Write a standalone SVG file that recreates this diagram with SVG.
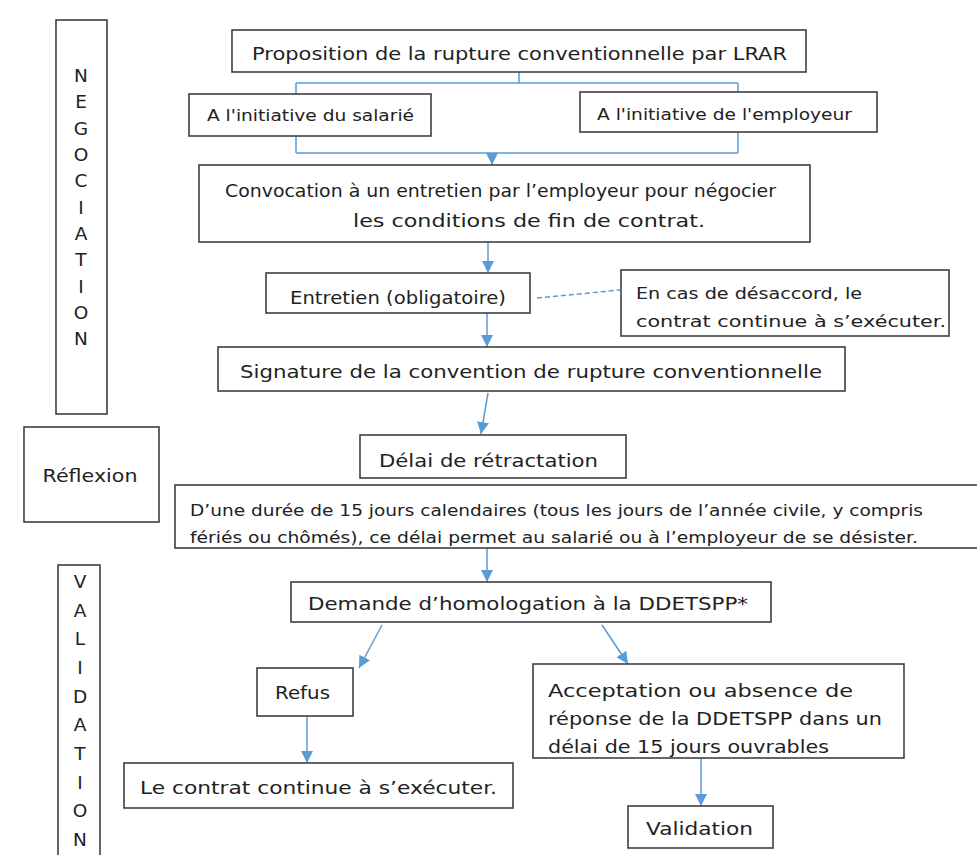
<svg xmlns="http://www.w3.org/2000/svg" width="977" height="855" viewBox="0 0 977 855">
<style>
.box{fill:#fff;stroke:#404040;stroke-width:1.6}
.t{font-family:"DejaVu Sans","Liberation Sans",sans-serif;font-size:18.5px;fill:#222}
.s{font-family:"DejaVu Sans","Liberation Sans",sans-serif;font-size:15.5px;fill:#222}
.c{text-anchor:middle}
.ln{fill:none;stroke:#5B9BD5;stroke-width:1.5}
</style>
<defs>
<marker id="ah" markerUnits="userSpaceOnUse" markerWidth="12" markerHeight="12" refX="12" refY="6" orient="auto" viewBox="0 0 12 12">
<path d="M0,0 L12,6 L0,12 z" fill="#5B9BD5"/>
</marker>
</defs>
<rect width="977" height="855" fill="#fff"/>

<g id="connectors">
<path class="ln" d="M519,72 V83 M296,83 H738 M296,83 V94 M738,83 V92"/>
<path class="ln" d="M296,136 V153 M738,132 V153 M296,153 H738"/>
<path class="ln" d="M492,153 V165" marker-end="url(#ah)"/>
<path class="ln" d="M488,242 V273" marker-end="url(#ah)"/>
<path class="ln" d="M537,298 L620,290" stroke-dasharray="5,3"/>
<path class="ln" d="M487,313 V347" marker-end="url(#ah)"/>
<path class="ln" d="M488,393 L481,434" marker-end="url(#ah)"/>
<path class="ln" d="M487,548 V582" marker-end="url(#ah)"/>
<path class="ln" d="M382,625 L359,668" marker-end="url(#ah)"/>
<path class="ln" d="M602,625 L628,664" marker-end="url(#ah)"/>
<path class="ln" d="M307,716 V763" marker-end="url(#ah)"/>
<path class="ln" d="M701,758 V806" marker-end="url(#ah)"/>
</g>

<g id="negociation">
<rect class="box" x="56" y="20" width="51" height="394"/>
<text class="t c" font-size="17">
<tspan x="81" y="82">N</tspan><tspan x="81" y="108">E</tspan><tspan x="81" y="135">G</tspan><tspan x="81" y="161">O</tspan><tspan x="81" y="187">C</tspan><tspan x="81" y="214">I</tspan><tspan x="81" y="240">A</tspan><tspan x="81" y="266">T</tspan><tspan x="81" y="293">I</tspan><tspan x="81" y="319">O</tspan><tspan x="81" y="345">N</tspan>
</text>
</g>

<g id="reflexion">
<rect class="box" x="24" y="427" width="135" height="95"/>
<text class="t c" x="90" y="482" textLength="95" lengthAdjust="spacingAndGlyphs">Réflexion</text>
</g>

<g id="validation-col">
<rect class="box" x="58" y="565" width="42" height="300"/>
<text class="t c" font-size="17">
<tspan x="80" y="588">V</tspan><tspan x="80" y="617">A</tspan><tspan x="80" y="645">L</tspan><tspan x="80" y="674">I</tspan><tspan x="80" y="703">D</tspan><tspan x="80" y="731">A</tspan><tspan x="80" y="760">T</tspan><tspan x="80" y="789">I</tspan><tspan x="80" y="817">O</tspan><tspan x="80" y="846">N</tspan>
</text>
</g>

<g id="proposition">
<rect class="box" x="232" y="30" width="574" height="42"/>
<text class="t" x="252" y="60" textLength="535" lengthAdjust="spacingAndGlyphs">Proposition de la rupture conventionnelle par LRAR</text>
</g>

<g id="salarie">
<rect class="box" x="189" y="94" width="242" height="42"/>
<text class="s" x="207" y="121" textLength="207" lengthAdjust="spacingAndGlyphs">A l'initiative du salarié</text>
</g>

<g id="employeur">
<rect class="box" x="580" y="92" width="297" height="40"/>
<text class="s" x="597" y="120" textLength="255" lengthAdjust="spacingAndGlyphs">A l'initiative de l'employeur</text>
</g>

<g id="convocation">
<rect class="box" x="199" y="165" width="611" height="77"/>
<text class="t" x="225" y="197" textLength="551" lengthAdjust="spacingAndGlyphs">Convocation à un entretien par l’employeur pour négocier</text>
<text class="t" x="353" y="227" textLength="352" lengthAdjust="spacingAndGlyphs">les conditions de fin de contrat.</text>
</g>

<g id="entretien">
<rect class="box" x="266" y="273" width="264" height="40"/>
<text class="t" x="290" y="304" textLength="216" lengthAdjust="spacingAndGlyphs">Entretien (obligatoire)</text>
</g>

<g id="desaccord">
<rect class="box" x="621" y="270" width="328" height="66"/>
<text class="s" x="636" y="299" textLength="226" lengthAdjust="spacingAndGlyphs">En cas de désaccord, le</text>
<text class="s" x="636" y="327" textLength="310" lengthAdjust="spacingAndGlyphs">contrat continue à s’exécuter.</text>
</g>

<g id="signature">
<rect class="box" x="218" y="347" width="627" height="44"/>
<text class="t" x="240" y="378" textLength="582" lengthAdjust="spacingAndGlyphs">Signature de la convention de rupture conventionnelle</text>
</g>

<g id="delai">
<rect class="box" x="360" y="435" width="266" height="43"/>
<text class="t" x="379" y="467" textLength="219" lengthAdjust="spacingAndGlyphs">Délai de rétractation</text>
</g>

<g id="duree">
<rect class="box" x="175" y="485" width="804" height="63"/>
<text class="s" x="190" y="516" textLength="733" lengthAdjust="spacingAndGlyphs">D’une durée de 15 jours calendaires (tous les jours de l’année civile, y compris</text>
<text class="s" x="190" y="543" textLength="728" lengthAdjust="spacingAndGlyphs">fériés ou chômés), ce délai permet au salarié ou à l’employeur de se désister.</text>
</g>

<g id="demande">
<rect class="box" x="291" y="582" width="480" height="40"/>
<text class="t" x="308" y="610" textLength="440" lengthAdjust="spacingAndGlyphs">Demande d’homologation à la DDETSPP*</text>
</g>

<g id="refus">
<rect class="box" x="257" y="668" width="96" height="48"/>
<text class="t" x="275" y="699" textLength="55" lengthAdjust="spacingAndGlyphs">Refus</text>
</g>

<g id="acceptation">
<rect class="box" x="533" y="664" width="371" height="94"/>
<text class="t" x="548" y="697" textLength="305" lengthAdjust="spacingAndGlyphs">Acceptation ou absence de</text>
<text class="t" x="548" y="725" textLength="334" lengthAdjust="spacingAndGlyphs">réponse de la DDETSPP dans un</text>
<text class="t" x="548" y="753" textLength="281" lengthAdjust="spacingAndGlyphs">délai de 15 jours ouvrables</text>
</g>

<g id="continue">
<rect class="box" x="124" y="763" width="389" height="45"/>
<text class="t" x="140" y="794" textLength="357" lengthAdjust="spacingAndGlyphs">Le contrat continue à s’exécuter.</text>
</g>

<g id="validation">
<rect class="box" x="628" y="806" width="145" height="42"/>
<text class="t" x="646" y="835" textLength="107" lengthAdjust="spacingAndGlyphs">Validation</text>
</g>
</svg>
